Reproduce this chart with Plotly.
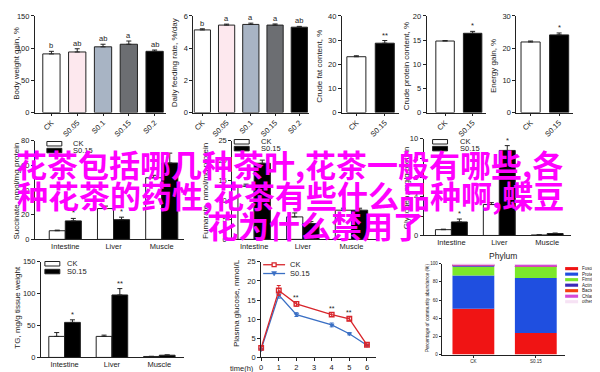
import plotly.graph_objects as go

W, H = 600, 372
FONT = "Liberation Sans, Arial, sans-serif"
CJK = "Noto Sans CJK SC"
INK = "#222222"

# ---------------- data ----------------
doses = ["CK", "S0.05", "S0.1", "S0.15", "S0.2"]
dose_colors = ["#ffffff", "#fde8ee", "#a8b4c4", "#6c6e72", "#000000"]
bw_gain = [91, 94, 102, 106, 95]
bw_gain_err = [4, 5, 4, 5, 2]
bw_gain_sig = ["b", "ab", "ab", "a", "ab"]
feed_rate = [5.13, 5.43, 5.47, 5.43, 5.30]
feed_rate_err = [0.07, 0.06, 0.08, 0.07, 0.05]
feed_rate_sig = ["b", "a", "a", "a", "ab"]

pair = ["CK", "S0.15"]
pair_colors = ["#ffffff", "#000000"]
crude_fat = [23.1, 28.7]
crude_fat_err = [0.4, 1.1]
crude_fat_sig = ["", "**"]
crude_protein = [14.8, 16.4]
crude_protein_err = [0.1, 0.4]
crude_protein_sig = ["", "*"]
energy_gain = [21.9, 24.1]
energy_gain_err = [0.3, 0.6]
energy_gain_sig = ["", "*"]

tissues = ["Intestine", "Liver", "Muscle"]
succ_ck = [7, 25, 50]
succ_ck_err = [0.5, 2, 2]
succ_s = [15, 16, 62]
succ_s_err = [2, 2, 8]
succ_sig = ["*", "*", ""]

acid_ck = [13.5, 5.7, 7.4]
acid_ck_err = [0.5, 1.0, 0.5]
acid_s = [19.3, 4.0, 7.4]
acid_s_err = [0.8, 0.5, 0.5]
acid_sig = ["", "", ""]

glyc_ck = [0.6, 3.2, 0.05]
glyc_ck_err = [0.05, 0.2, 0.02]
glyc_s = [1.4, 8.8, 0.2]
glyc_s_err = [0.3, 0.5, 0.05]
glyc_sig = ["*", "*", ""]

tg_ck = [33, 33, 1.5]
tg_ck_err = [6, 2, 0.3]
tg_s = [55, 98, 3.5]
tg_s_err = [4, 10, 0.5]
tg_sig = ["*", "**", ""]

hours = [0, 1, 2, 4, 5, 6]
glucose_ck = [2.5, 17.5, 14.0, 11.2, 10.1, 3.3]
glucose_ck_err = [0.3, 1.3, 0.6, 0.5, 0.5, 0.2]
glucose_s = [2.1, 16.3, 11.2, 8.5, 6.2, 3.2]
glucose_s_err = [0.2, 0.8, 0.5, 0.5, 0.3, 0.2]
glucose_sig = ["", "", "**", "**", "**", ""]

phyla = ["Fusobacteria", "Proteobacteria", "Firmicutes", "Actinobacteria",
         "Bacteroidetes", "Chlamydiae", "others"]
phyla_colors = ["#f01414", "#1f4fe0", "#7be82a", "#3a28b8", "#f5400f", "#d44ad8", "#f6e2f4"]
phylum_ck = [50.5, 36.5, 9.8, 1.8, 0.2, 1.0, 0.2]
phylum_s = [23.6, 60.6, 12.8, 0.5, 0.2, 1.8, 0.5]

overlay_lines = ["花茶包括哪几种茶叶,花茶一般有哪些,各",
                 "种花茶的药性,花茶有些什么品种啊,蝶豆",
                 "花为什么禁用了"]

# ---------------- helpers ----------------
fig = go.Figure()
layout = dict(width=W, height=H, margin=dict(l=0, r=0, t=0, b=0),
              paper_bgcolor="white", plot_bgcolor="rgba(0,0,0,0)",
              showlegend=False, barmode="overlay",
              font=dict(family=FONT, size=7.5, color=INK))
annotations = []
shapes = []

AX = dict(showline=True, linecolor=INK, linewidth=1, ticks="outside", ticklen=3,
          tickwidth=1, tickcolor=INK, showgrid=False, zeroline=False,
          fixedrange=True, tickfont=dict(family=FONT, size=7.5, color=INK))


def add_axes(i, box, xr, yr, ydtick, xextra=None, yextra=None):
    xl, xrp, yt, yb = box
    s = "" if i == 1 else str(i)
    xn, yn = "x" + s, "y" + s
    xa = dict(AX, domain=[xl / W, xrp / W], range=xr, anchor=yn)
    ya = dict(AX, domain=[1 - yb / H, 1 - yt / H], range=yr, dtick=ydtick, anchor=xn)
    if xextra:
        xa.update(xextra)
    if yextra:
        ya.update(yextra)
    layout["xaxis" + s] = xa
    layout["yaxis" + s] = ya
    return xn, yn


def err(arr, w=2.5):
    return dict(type="data", array=arr, arrayminus=[0] * len(arr), symmetric=False,
                color=INK, thickness=1, width=w)


def ytitle(text, xpx, ypx, size=8):
    annotations.append(dict(text=text, x=xpx / W, y=1 - ypx / H, xref="paper", yref="paper",
                            textangle=-90, showarrow=False, xanchor="center",
                            yanchor="middle", font=dict(size=size, family=FONT, color=INK)))


def sig_marks(xn, yn, xs, vals, errs, sigs, size=7.5):
    for x, v, e, s in zip(xs, vals, errs, sigs):
        if s:
            annotations.append(dict(text=s, x=x, y=v + e, xref=xn, yref=yn, showarrow=False,
                                    yanchor="bottom", yshift=-1,
                                    font=dict(size=size, family=FONT, color=INK)))


def single_panel(i, box, xr, yr, dtick, cats, vals, errs, colors, sigs, title, tx, ty):
    xn, yn = add_axes(i, box, xr, yr, dtick,
                      xextra=dict(type="category", tickangle=-45, ticklen=2))
    fig.add_trace(go.Bar(x=cats, y=vals, xaxis=xn, yaxis=yn, width=0.67,
                         marker=dict(color=colors, line=dict(color=INK, width=1)),
                         error_y=err(errs)))
    sig_marks(xn, yn, cats, vals, errs, sigs)
    ytitle(title, tx, ty)


def pair_legend(x0, y_ck, y_s, tx):
    for y, fill, label in ((y_ck, "white", "CK"), (y_s, "black", "S0.15")):
        shapes.append(dict(type="rect", xref="paper", yref="paper", x0=x0 / W, x1=(x0 + 15) / W,
                           y0=1 - (y + 2.3) / H, y1=1 - (y - 2.3) / H, fillcolor=fill,
                           line=dict(color=INK, width=1)))
        annotations.append(dict(text=label, x=tx / W, y=1 - y / H, xref="paper", yref="paper",
                                xanchor="left", yanchor="middle", showarrow=False,
                                font=dict(size=7.5, family=FONT, color=INK)))


def group_panel(i, box, xr, yr, dtick, ck, ck_e, s, s_e, sigs, title, tx, ty):
    xn, yn = add_axes(i, box, xr, yr, dtick, xextra=dict(type="category", ticks=""))
    half = 0.333
    fig.add_trace(go.Bar(x=tissues, y=ck, xaxis=xn, yaxis=yn, offset=-half, width=half,
                         marker=dict(color="white", line=dict(color=INK, width=1)),
                         error_y=err(ck_e)))
    fig.add_trace(go.Bar(x=tissues, y=s, xaxis=xn, yaxis=yn, offset=0, width=half,
                         marker=dict(color="black", line=dict(color=INK, width=1)),
                         error_y=err(s_e)))
    xs = [k + half / 2 for k in range(len(tissues))]
    sig_marks(xn, yn, xs, s, s_e, sigs)
    ytitle(title, tx, ty)


# ---------------- top row ----------------
single_panel(1, (25, 157, 4, 103), [-0.64, 4.46], [0, 150], 50, doses, bw_gain, bw_gain_err,
             dose_colors, bw_gain_sig, "Body weight gain, %", 7, 52)
single_panel(2, (184, 300, 4, 103), [-0.37, 4.4], [0, 6], 2, doses, feed_rate, feed_rate_err,
             dose_colors, feed_rate_sig, "Daily feeding rate, %/day", 165, 52)
single_panel(3, (333, 390, 4, 103), [-0.51, 1.49], [0, 40], 10, pair, crude_fat, crude_fat_err,
             pair_colors, crude_fat_sig, "Crude fat content, %", 311, 55)
single_panel(4, (418, 478, 4, 103), [-0.67, 1.5], [0, 20], 5, pair, crude_protein,
             crude_protein_err, pair_colors, crude_protein_sig, "Crude protein content, %", 398, 55)
single_panel(5, (508, 565, 4, 103), [-0.5, 1.49], [0, 30], 10, pair, energy_gain,
             energy_gain_err, pair_colors, energy_gain_sig, "Energy gain, %", 485, 55)

# ---------------- middle row ----------------
group_panel(6, (25, 175, 132, 233), [-0.63, 2.47], [0, 80], 20, succ_ck, succ_ck_err, succ_s,
            succ_s_err, succ_sig, "Succinate, nmol/mg protein", 7, 183)
pair_legend(37, 135, 142, 61)
group_panel(7, (223, 368, 132, 233), [-0.45, 2.52], [0, 25], 5, acid_ck, acid_ck_err, acid_s,
            acid_s_err, acid_sig, "Fumarate, nmol/mg protein", 196, 183)
pair_legend(225, 133, 140, 250)
group_panel(8, (415, 563, 130, 229), [-0.58, 2.5], [0, 10], 2, glyc_ck, glyc_ck_err, glyc_s,
            glyc_s_err, glyc_sig, "Glycogen, mg/g protein", 398, 180)
pair_legend(424, 133, 140, 449)

# ---------------- bottom row ----------------
group_panel(9, (31, 175, 256, 354), [-0.5, 2.53], [0, 150], 50, tg_ck, tg_ck_err, tg_s,
            tg_s_err, tg_sig, "TG, mg/g tissue weight", 8, 302)
pair_legend(35, 258, 266, 55)

# glucose line chart
RED, BLUE = "#d8262c", "#3a6fc4"
xn, yn = add_axes(10, (252, 367, 256, 354), [0, 6.5], [0, 25], 5,
                  xextra=dict(tickvals=[0, 1, 2, 3, 4, 5, 6]))
fig.add_trace(go.Scatter(x=hours, y=glucose_s, xaxis=xn, yaxis=yn, mode="lines+markers",
                         line=dict(color=BLUE, width=1.3), cliponaxis=False,
                         marker=dict(symbol="triangle-down", size=5, color=BLUE),
                         error_y=dict(type="data", array=glucose_s_err, color=BLUE,
                                      thickness=1, width=2)))
fig.add_trace(go.Scatter(x=hours, y=glucose_ck, xaxis=xn, yaxis=yn, mode="lines+markers",
                         line=dict(color=RED, width=1.3), cliponaxis=False,
                         marker=dict(symbol="square-open", size=4.5, color=RED,
                                     line=dict(width=1.4, color=RED)),
                         error_y=dict(type="data", array=glucose_ck_err, color=RED,
                                      thickness=1, width=2)))
sig_marks(xn, yn, hours, glucose_ck, glucose_ck_err, glucose_sig, size=7)
ytitle("Plasma glucose, mmol/L", 228, 298, size=8)
annotations.append(dict(text="time(h)", x=233 / W, y=1 - 365.5 / H, xref="paper", yref="paper",
                        showarrow=False, xanchor="center", yanchor="middle",
                        font=dict(size=7.5, family=FONT, color=INK)))
for yy, col, label, sym in ((259, RED, "CK", "sq"), (268, BLUE, "S0.15", "tri")):
    shapes.append(dict(type="line", xref="paper", yref="paper", x0=254 / W, x1=276 / W,
                       y0=1 - yy / H, y1=1 - yy / H, line=dict(color=col, width=1.3)))
    if sym == "sq":
        shapes.append(dict(type="rect", xref="paper", yref="paper", x0=263 / W, x1=267 / W,
                           y0=1 - (yy + 2) / H, y1=1 - (yy - 2) / H, fillcolor="white",
                           line=dict(color=col, width=1.3)))
    else:
        shapes.append(dict(type="path", xref="paper", yref="paper",
                           path=f"M {262.5 / W} {1 - (yy - 2) / H} L {267.5 / W} {1 - (yy - 2) / H} L {265 / W} {1 - (yy + 2.5) / H} Z",
                           fillcolor=col, line=dict(color=col, width=0.5)))
    annotations.append(dict(text=label, x=279 / W, y=1 - yy / H, xref="paper", yref="paper",
                            xanchor="left", yanchor="middle", showarrow=False,
                            font=dict(size=7.5, family=FONT, color=INK)))

# phylum stacked bars
small = dict(family=FONT, size=4.5, color=INK)
xn, yn = add_axes(11, (433, 557, 258, 351), [-0.51, 1.47], [0, 100], 20,
                  xextra=dict(type="category", ticklen=2, tickfont=small),
                  yextra=dict(ticklen=2, tickfont=small))
base_ck, base_s = 0.0, 0.0
for name, col, vck, vs in zip(phyla, phyla_colors, phylum_ck, phylum_s):
    fig.add_trace(go.Bar(x=pair, y=[vck, vs], base=[base_ck, base_s], xaxis=xn, yaxis=yn,
                         width=0.67, marker=dict(color=col, line=dict(width=0)), name=name))
    base_ck += vck
    base_s += vs
annotations.append(dict(text="Phylum", x=495 / W, y=1 - 250 / H, xref="paper", yref="paper",
                        showarrow=False, xanchor="center", yanchor="middle",
                        font=dict(size=8.5, family=FONT, color=INK)))
ytitle("Percentage of community abundance (%)", 419, 303, size=4.8)
for k, (name, col) in enumerate(zip(phyla, phyla_colors)):
    yy = 263 + k * 5.65
    shapes.append(dict(type="rect", xref="paper", yref="paper", x0=557 / W, x1=570 / W,
                       y0=1 - (yy + 1.6) / H, y1=1 - (yy - 1.6) / H, fillcolor=col,
                       line=dict(width=0)))
    annotations.append(dict(text=name, x=572 / W, y=1 - yy / H, xref="paper", yref="paper",
                            xanchor="left", yanchor="middle", showarrow=False,
                            font=dict(size=4.5, family=FONT, color=INK)))

# ---------------- magenta overlay text ----------------
for text, lx, cy in zip(overlay_lines, [4, 5, 196], [155, 187, 218]):
    annotations.append(dict(text=text, x=lx / W, y=1 - cy / H, xref="paper", yref="paper",
                            xanchor="left", yanchor="middle", showarrow=False,
                            font=dict(size=31, family=CJK, color="#ff00ff", weight="bold")))

layout["annotations"] = annotations
layout["shapes"] = shapes
fig.update_layout(**layout)
fig.write_html("out.html")
